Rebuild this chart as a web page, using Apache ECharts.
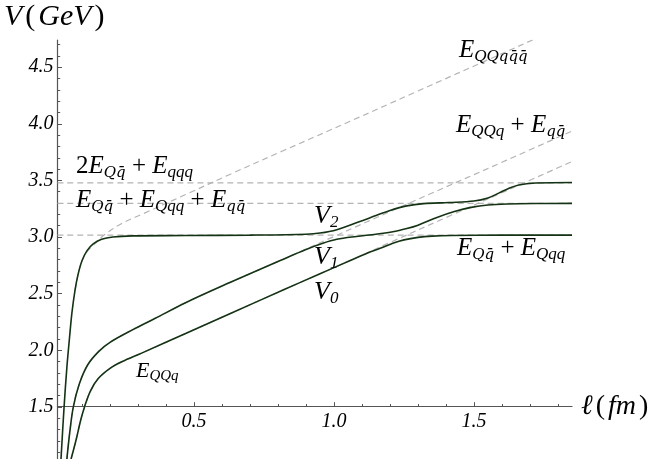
<!DOCTYPE html>
<html>
<head>
<meta charset="utf-8">
<script src="https://cdn.jsdelivr.net/npm/echarts@6/dist/echarts.min.js"></script>
<style>html,body{margin:0;padding:0;background:#fff}#c{width:654px;height:459px}</style>
</head>
<body>
<div id="c"></div>
<script>
// ---- axis ranges and ticks ----
const X_MIN = 0.0125, X_MAX = 1.85;
const Y_MIN = 1.04, Y_MAX = 4.74;
const X_AXIS_AT = 1.5;
const xMajorTicks = [0.5, 1.0, 1.5];
const xMinorTicks = [0.1,0.2,0.3,0.4,0.6,0.7,0.8,0.9,1.1,1.2,1.3,1.4,1.6,1.7,1.8];
const yMajorTicks = [1.5, 2.0, 2.5, 3.0, 3.5, 4.0, 4.5];
const yMinorTicks = [1.1,1.2,1.3,1.4,1.6,1.7,1.8,1.9,2.1,2.2,2.3,2.4,2.6,2.7,2.8,2.9,3.1,3.2,3.3,3.4,3.6,3.7,3.8,3.9,4.1,4.2,4.3,4.4,4.6,4.7];

// ---- thresholds (horizontal dashed) ----
const E_Qqb_Qqq = 3.017;          // E_{Qq̄}+E_{Qqq}
const E_Qqb_Qqq_qqb = 3.297;      // E_{Qq̄}+E_{Qqq}+E_{qq̄}
const E_2Qqb_qqq = 3.479;         // 2E_{Qq̄}+E_{qqq}

// ---- solid curves [ℓ, V] ----
const V0 = [[0.061,1.04],[0.079,1.21],[0.095,1.38],[0.109,1.5],[0.13,1.64],[0.158,1.75],[0.2,1.84],[0.242,1.898],[0.313,1.975],[0.47,2.148],[0.63,2.325],[0.82,2.534],[0.94,2.665],[1.06,2.795],[1.12,2.86],[1.175,2.91],[1.21,2.945],[1.25,2.975],[1.3,2.997],[1.35,3.008],[1.42,3.014],[1.6,3.017],[1.85,3.017]];
const V1 = [[0.046,1.04],[0.057,1.29],[0.069,1.5],[0.09,1.70],[0.12,1.87],[0.16,1.99],[0.2,2.07],[0.28,2.18],[0.36,2.28],[0.47,2.42],[0.63,2.60],[0.81,2.795],[0.9,2.89],[0.96,2.945],[1.01,2.98],[1.08,3.005],[1.15,3.025],[1.21,3.046],[1.26,3.075],[1.3,3.105],[1.37,3.175],[1.43,3.225],[1.49,3.262],[1.55,3.283],[1.62,3.292],[1.72,3.296],[1.85,3.297]];
const V2 = [[0.025,1.04],[0.036,1.5],[0.046,1.85],[0.055,2.1],[0.064,2.33],[0.075,2.53],[0.086,2.67],[0.1,2.79],[0.118,2.88],[0.14,2.94],[0.17,2.98],[0.21,3.0],[0.28,3.01],[0.47,3.013],[0.7,3.017],[0.9,3.025],[0.95,3.035],[1.01,3.065],[1.09,3.135],[1.15,3.19],[1.2,3.235],[1.26,3.275],[1.32,3.295],[1.41,3.305],[1.5,3.318],[1.55,3.345],[1.59,3.39],[1.62,3.425],[1.66,3.46],[1.72,3.477],[1.85,3.482]];

// ---- dashed diabatic curves [ℓ, E] ----
const E_QQq = [[0.061,1.04],[0.079,1.21],[0.095,1.38],[0.109,1.5],[0.13,1.64],[0.158,1.75],[0.2,1.84],[0.242,1.898],[0.313,1.975],[0.47,2.148],[0.63,2.325],[0.82,2.534],[0.94,2.665],[1.06,2.795],[1.2,2.952],[1.4,3.172],[1.6,3.392],[1.85,3.667]];
const E_QQq_qqb = [[0.046,1.04],[0.057,1.29],[0.069,1.5],[0.09,1.70],[0.12,1.87],[0.16,1.99],[0.2,2.07],[0.28,2.18],[0.36,2.28],[0.47,2.42],[0.63,2.60],[0.81,2.795],[1.0,3.005],[1.236,3.264],[1.617,3.679],[1.85,3.936]];
const E_QQqqbqb = [[0.075,2.53],[0.086,2.67],[0.1,2.79],[0.118,2.87],[0.146,2.94],[0.18,3.02],[0.242,3.12],[0.313,3.2],[0.47,3.375],[0.63,3.555],[0.82,3.764],[1.06,4.025],[1.3,4.29],[1.55,4.565],[1.75,4.785],[1.85,4.895]];

const FONT = 'Liberation Serif';
const SOLID = '#143214';
const DASH = '#b4b4b4';

function solid(data){
  return {type:'line', xAxisIndex:0, yAxisIndex:0, data, showSymbol:false, smooth:0.35, z:5,
    lineStyle:{color:SOLID, width:1.6}, silent:true};
}
function dashed(data){
  return {type:'line', xAxisIndex:0, yAxisIndex:0, data, showSymbol:false, smooth:0.35, z:2,
    lineStyle:{color:DASH, width:1.2, type:[6,4]}, silent:true};
}
function hline(v){ return dashed([[X_MIN, v],[X_MAX, v]]); }

function richLabel(x, y, text, big, small, pad){
  pad = pad || 0;
  return {type:'text', x, y, z:10, style:{
    text, font: 'italic ' + big + 'px ' + FONT, verticalAlign:'top', align:'left',
    rich:{
      m:{fontFamily:FONT, fontStyle:'italic', fontSize:big, lineHeight:big+4, verticalAlign:'middle', fill:'#000'},
      u:{fontFamily:FONT, fontStyle:'normal', fontSize:big, lineHeight:big+4, verticalAlign:'middle', fill:'#000', padding:[0,pad,0,pad]},
      s:{fontFamily:FONT, fontStyle:'italic', fontSize:small, lineHeight:small, verticalAlign:'bottom', fill:'#000'},
      b:{fontFamily:'DejaVu Serif', fontStyle:'italic', fontSize:small-2, lineHeight:small, verticalAlign:'bottom', fill:'#000'}
    }
  }};
}
function tickText(x, y, str, align, vAlign){
  return {type:'text', x, y, z:10, style:{text:str, font:'italic 20px ' + FONT,
    fill:'#000', align, verticalAlign:vAlign}};
}

const chart = echarts.init(document.getElementById('c'), null, {renderer:'canvas'});
const axisGray = '#555';
chart.setOption({
  animation:false,
  backgroundColor:'#fff',
  grid:[
    {left:57.5, right:82, top:40, bottom:0},
    {left:57.5, right:82, top:40, bottom:52.3}
  ],
  xAxis:[
    {gridIndex:0, type:'value', min:X_MIN, max:X_MAX, show:false},
    {gridIndex:1, type:'value', min:X_MIN, max:X_MAX, position:'bottom',
      axisLine:{show:true, lineStyle:{color:axisGray, width:1.2}},
      axisTick:{show:true, inside:true, length:4.5, customValues:xMajorTicks, lineStyle:{color:axisGray}},
      axisLabel:{show:false}, splitLine:{show:false}},
    {gridIndex:1, type:'value', min:X_MIN, max:X_MAX, position:'bottom',
      axisLine:{show:false},
      axisTick:{show:true, inside:true, length:2.7, customValues:xMinorTicks, lineStyle:{color:axisGray}},
      axisLabel:{show:false}, splitLine:{show:false}}
  ],
  yAxis:[
    {gridIndex:0, type:'value', min:Y_MIN, max:Y_MAX, position:'left',
      axisLine:{show:true, lineStyle:{color:axisGray, width:1.2}},
      axisTick:{show:true, inside:true, length:4.5, customValues:yMajorTicks, lineStyle:{color:axisGray}},
      axisLabel:{show:false}, splitLine:{show:false}},
    {gridIndex:0, type:'value', min:Y_MIN, max:Y_MAX, position:'left',
      axisLine:{show:false},
      axisTick:{show:true, inside:true, length:2.7, customValues:yMinorTicks, lineStyle:{color:axisGray}},
      axisLabel:{show:false}, splitLine:{show:false}},
    {gridIndex:1, type:'value', min:X_AXIS_AT, max:Y_MAX, show:false}
  ],
  series:[
    hline(E_Qqb_Qqq), hline(E_Qqb_Qqq_qqb), hline(E_2Qqb_qqq),
    dashed(E_QQq), dashed(E_QQq_qqb), dashed(E_QQqqbqb),
    solid(V0), solid(V1), solid(V2)
  ]
});

// tick labels placed through the chart's own scales
const tickGraphics = [];
xMajorTicks.forEach(v => {
  const p = chart.convertToPixel({gridIndex:0}, [v, X_AXIS_AT]);
  tickGraphics.push(tickText(p[0], p[1] + 5, v.toFixed(1), 'center', 'top'));
});
yMajorTicks.forEach(v => {
  const p = chart.convertToPixel({gridIndex:0}, [X_MIN, v]);
  tickGraphics.push(tickText(p[0] - 4, p[1], v.toFixed(1), 'right', 'middle'));
});

chart.setOption({
  graphic: tickGraphics.concat([
    richLabel(4, 0, '{m|V}{u|(}{m|GeV}{u|)}', 30, 16, 3),
    richLabel(581, 391, '{m|ℓ}{u|(}{m|fm}{u|)}', 28, 16, 3),
    richLabel(459, 36, '{m|E}{s|QQ}{b|qq̄q̄}', 25, 17),
    richLabel(456, 111, '{m|E}{s|QQq}{u| + }{m|E}{b|qq̄}', 25, 17),
    richLabel(76, 152, '{u|2}{m|E}{b|Qq̄}{u| + }{m|E}{s|qqq}', 25, 17),
    richLabel(76, 186, '{m|E}{b|Qq̄}{u| + }{m|E}{s|Qqq}{u| + }{m|E}{b|qq̄}', 25, 17),
    richLabel(457, 234, '{m|E}{b|Qq̄}{u| + }{m|E}{s|Qqq}', 25, 17),
    richLabel(314, 201, '{m|V}{s|2}', 26, 17),
    richLabel(314, 242, '{m|V}{s|1}', 26, 17),
    richLabel(314, 277, '{m|V}{s|0}', 26, 17),
    richLabel(136, 358, '{m|E}{s|QQq}', 22, 15)
  ])
});
</script>
</body>
</html>
